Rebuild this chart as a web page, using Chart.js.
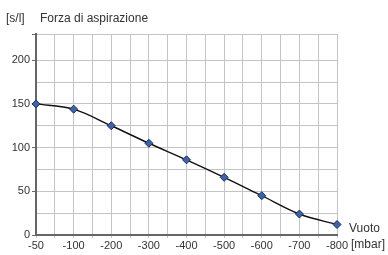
<!DOCTYPE html>
<html>
<head>
<meta charset="utf-8">
<script src="https://cdn.jsdelivr.net/npm/chart.js@4"></script>
<style>
  body { margin: 0; background: #fff; }
  #wrap { position: relative; width: 388px; height: 255px; }
  .lbl { position: absolute; font: 12px "Liberation Sans", Arial, sans-serif; color: #333; white-space: nowrap; line-height: 14px; }
</style>
</head>
<body>
<div id="wrap">
  <canvas id="chart" width="388" height="255"></canvas>
  <span class="lbl" style="left:6px; top:11px;">[s/l]</span>
  <span class="lbl" style="left:40px; top:11px;">Forza di aspirazione</span>
  <span class="lbl" style="left:349px; top:221px;">Vuoto</span>
  <span class="lbl" style="left:351px; top:237px;">[mbar]</span>
</div>
<script>
// vacuum levels (mbar) and suction force (s/l)
const vacuum = ["-50", "-100", "-200", "-300", "-400", "-500", "-600", "-700", "-800"];
const force = [150, 144, 125, 105, 86, 66, 45, 24, 12];
const yMax = 230;

const points = force.map((v, i) => ({ x: i, y: v }));

new Chart(document.getElementById("chart"), {
  type: "line",
  data: {
    datasets: [{
      data: points,
      borderColor: "#111",
      borderWidth: 1.4,
      tension: 0.4,
      cubicInterpolationMode: "monotone",
      pointStyle: "rectRot",
      pointRadius: 4,
      pointBackgroundColor: "#3d63a8",
      pointBorderColor: "#1c2d55",
      pointBorderWidth: 1,
      clip: false
    }]
  },
  options: {
    responsive: false,
    animation: false,
    layout: { padding: { left: 0, right: 51, top: 34, bottom: 0 } },
    plugins: { legend: { display: false }, tooltip: { enabled: false } },
    scales: {
      x: {
        type: "linear",
        min: 0,
        max: vacuum.length - 1,
        afterFit: s => { s.height = 20; },
        ticks: {
          stepSize: 0.5,
          autoSkip: false,
          maxRotation: 0,
          padding: 1,
          color: "#333",
          font: { family: "Liberation Sans", size: 11 },
          callback: v => Number.isInteger(v) ? vacuum[v] : ""
        },
        grid: { color: "#c4c4c4", tickLength: 3, tickColor: "#c4c4c4" },
        border: { color: "#666", width: 2 }
      },
      y: {
        min: 0,
        max: yMax,
        afterFit: s => { s.width = 36; },
        ticks: {
          stepSize: 25,
          padding: 2,
          color: "#333",
          font: { family: "Liberation Sans", size: 11 },
          callback: v => (v % 50 === 0 && v <= 200) ? v : ""
        },
        grid: {
          color: c => c.tick && c.tick.value === 225 ? "rgba(0,0,0,0)" : "#c4c4c4",
          tickLength: 4,
          tickColor: c => c.tick && (c.tick.value % 50 === 0 || c.tick.value === yMax) ? "#666" : "rgba(0,0,0,0)"
        },
        border: { color: "#666", width: 2 }
      }
    }
  }
});
</script>
</body>
</html>
